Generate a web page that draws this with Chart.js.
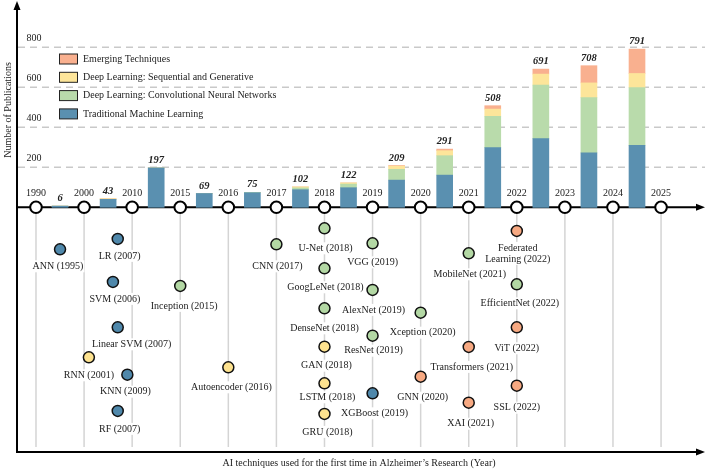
<!DOCTYPE html>
<html>
<head>
<meta charset="utf-8">
<script src="https://cdn.jsdelivr.net/npm/chart.js@4.4.0/dist/chart.umd.min.js"></script>
<style>
  html, body { margin: 0; padding: 0; background: #fff; }
  #wrap { width: 709px; height: 470px; }
</style>
</head>
<body>
<div id="wrap"><canvas id="timelineChart" width="709" height="470"></canvas></div>
<script>
// year marks on the timeline
var yearMarks = ['1990', '2000', '2010', '2015', '2016', '2017', '2018', '2019', '2020', '2021', '2022', '2023', '2024', '2025'];

// publications for each period between two year marks
var totals        = [6, 43, 197, 69, 75, 102, 122, 209, 291, 508, 691, 708, 791];
var traditionalML = [6, 40, 197, 69, 73, 88, 98, 136, 161, 298, 343, 272, 310];
var dlConv        = [0, 0, 0, 0, 2, 9, 18, 54, 97, 157, 268, 276, 288];
var dlSeqGen      = [0, 3, 0, 0, 0, 5, 6, 16, 25, 36, 55, 74, 71];
var emerging      = [0, 0, 0, 0, 0, 0, 0, 3, 8, 17, 25, 86, 122];
var yTicks = [200, 400, 600, 800];

var seriesNames = ['Traditional Machine Learning', 'Deep Learning: Convolutional Neural Networks',
                   'Deep Learning: Sequential and Generative', 'Emerging Techniques'];

// AI techniques, first year used, group (index into seriesNames), lane below the timeline
var techNames = ['ANN', 'LR', 'SVM', 'Inception', 'Linear SVM', 'RNN', 'KNN', 'Autoencoder', 'RF',
                 'CNN', 'U-Net', 'GoogLeNet', 'DenseNet', 'GAN', 'LSTM', 'GRU',
                 'VGG', 'AlexNet', 'ResNet', 'XGBoost', 'Xception', 'GNN',
                 'MobileNet', 'Transformers', 'XAI', 'Federated\nLearning', 'EfficientNet', 'ViT', 'SSL'];
var techYears = [1995, 2007, 2006, 2015, 2007, 2001, 2009, 2016, 2007,
                 2017, 2018, 2018, 2018, 2018, 2018, 2018,
                 2019, 2019, 2019, 2019, 2020, 2020,
                 2021, 2021, 2021, 2022, 2022, 2022, 2022];
var techGroup = [0, 0, 0, 1, 0, 2, 0, 2, 0,
                 1, 1, 1, 1, 2, 2, 2,
                 1, 1, 1, 0, 1, 3,
                 1, 3, 3, 3, 1, 3, 3];
var techLane  = [-210, -158, -373, -393, -600, -750, -837, -800, -1018,
                 -185, -105, -305, -505, -697, -880, -1033,
                 -180, -413, -642, -930, -527, -847,
                 -230, -698, -977, -118, -385, -600, -892];

// layout / style
var barColors = ['#5a90b0', '#b9dbab', '#fde59a', '#f9b08f'];
var dotColors = ['#4f88ab', '#b3d8a4', '#fde28f', '#f7a982'];
var labelOffsets = [[-2, 17], [2, 17], [2, 17], [4, 20], [14, 17], [0, 18], [-2, 17], [3, 20], [2, 18],
                    [1, 22], [1, 20], [1, 19], [0, 20], [2, 19], [3, 14], [3, 18],
                    [0, 19], [1, 20], [1, 15], [2, 20], [2, 20], [2, 21],
                    [1, 21], [3, 20], [2, 21], [1, 17], [3, 19], [0, 21], [0, 22]];
var FONT = '"Liberation Serif", "Times New Roman", serif';
var TXT = '#222';

function yearPos(y) {
    if (y <= 2010) return (y - 1990) / 10;
    return y - 2015 + 3;
}

function barData(arr) {
    return arr.map(function (v, i) { return { x: i + 0.5, y: v }; });
}

var techPoints = techNames.map(function (n, i) { return { x: yearPos(techYears[i]), y: techLane[i] }; });
var markPoints = yearMarks.map(function (y, i) { return { x: i, y: 0 }; });

function arrow(ctx, x, y, dir) {
    ctx.beginPath();
    if (dir == 'up') {
        ctx.moveTo(x, y); ctx.lineTo(x - 3.5, y + 9); ctx.lineTo(x + 3.5, y + 9);
    } else {
        ctx.moveTo(x, y); ctx.lineTo(x - 9, y - 3.5); ctx.lineTo(x - 9, y + 3.5);
    }
    ctx.closePath();
    ctx.fill();
}

function ys2(chart, v) {
    return chart.scales.y2.getPixelForValue(v);
}

var timelineDecor = {
    id: 'timelineDecor',
    beforeDatasetsDraw: function (chart) {
        var ctx = chart.ctx, xs = chart.scales.x, ys = chart.scales.y, area = chart.chartArea;
        var y0 = ys.getPixelForValue(0);
        ctx.save();

        // dashed grid
        ctx.strokeStyle = '#c9c9c9';
        ctx.lineWidth = 1.5;
        ctx.setLineDash([7, 5]);
        yTicks.forEach(function (v) {
            var py = ys.getPixelForValue(v);
            ctx.beginPath(); ctx.moveTo(area.left + 1, py); ctx.lineTo(area.right, py); ctx.stroke();
        });
        ctx.setLineDash([]);

        // drop lines under each year mark
        ctx.strokeStyle = '#d4d4d4';
        ctx.lineWidth = 1.5;
        yearMarks.forEach(function (y, i) {
            var px = xs.getPixelForValue(i);
            ctx.beginPath(); ctx.moveTo(px, y0 + 6); ctx.lineTo(px, area.bottom - 5); ctx.stroke();
        });

        // technique labels (white box hides the drop lines)
        ctx.font = '10px ' + FONT;
        ctx.textAlign = 'center';
        ctx.textBaseline = 'middle';
        techNames.forEach(function (n, i) {
            var px = xs.getPixelForValue(techPoints[i].x) + labelOffsets[i][0];
            var py = ys2(chart, techPoints[i].y) + labelOffsets[i][1];
            var lines = (n + ' (' + techYears[i] + ')').split('\n');
            lines.forEach(function (t, k) {
                var ly = py + k * 11;
                var w = ctx.measureText(t).width;
                ctx.fillStyle = '#fff';
                ctx.fillRect(px - w / 2 - 1, ly - 6, w + 2, 12);
                ctx.fillStyle = TXT;
                ctx.fillText(t, px, ly);
            });
        });

        // frame, timeline and arrows
        ctx.strokeStyle = '#000';
        ctx.fillStyle = '#000';
        ctx.lineWidth = 2;
        ctx.beginPath();
        ctx.moveTo(area.left, area.bottom); ctx.lineTo(area.left, area.top + 4);
        ctx.moveTo(area.left - 1, area.bottom); ctx.lineTo(area.right - 6, area.bottom);
        ctx.moveTo(area.left, y0); ctx.lineTo(area.right - 6, y0);
        ctx.stroke();
        arrow(ctx, area.left, area.top - 2, 'up');
        arrow(ctx, area.right, area.bottom, 'right');
        arrow(ctx, area.right, y0, 'right');
        ctx.restore();
    },
    afterDatasetsDraw: function (chart) {
        var ctx = chart.ctx, xs = chart.scales.x, ys = chart.scales.y, area = chart.chartArea;
        var y0 = ys.getPixelForValue(0);
        ctx.save();
        ctx.fillStyle = TXT;
        ctx.textAlign = 'center';

        // year labels
        ctx.font = '10px ' + FONT;
        ctx.textBaseline = 'alphabetic';
        yearMarks.forEach(function (y, i) {
            ctx.fillText(y, xs.getPixelForValue(i), y0 - 11);
        });

        // y tick labels
        yTicks.forEach(function (v) {
            ctx.fillText(String(v), area.left + 17, ys.getPixelForValue(v) - 6.5);
        });

        // totals
        ctx.font = 'italic bold 10.5px ' + FONT;
        totals.forEach(function (v, i) {
            ctx.fillText(String(v), xs.getPixelForValue(i + 0.5), ys.getPixelForValue(v) - 5);
        });

        // legend (reverse order)
        ctx.font = '10px ' + FONT;
        ctx.textAlign = 'left';
        ctx.textBaseline = 'middle';
        for (var k = 3; k >= 0; k--) {
            var cy = 59 + (3 - k) * 18.3;
            ctx.fillStyle = barColors[k];
            ctx.fillRect(59.5, cy - 5, 18, 10);
            ctx.strokeStyle = '#222';
            ctx.lineWidth = 1;
            ctx.strokeRect(59.5, cy - 5, 18, 10);
            ctx.fillStyle = TXT;
            ctx.fillText(seriesNames[k], 83, cy);
        }

        // axis titles
        ctx.textAlign = 'center';
        ctx.fillText('AI techniques used for the first time in Alzheimer\u2019s Research (Year)', 359, 463);
        ctx.translate(8, 110);
        ctx.rotate(-Math.PI / 2);
        ctx.fillText('Number of Publications', 0, 0);
        ctx.restore();
    }
};

var X_MIN = -0.395, X_MAX = 13.914, Y_MIN = -1223.5, Y_MAX = 1021.5;

var barSets = [traditionalML, dlConv, dlSeqGen, emerging].map(function (arr, k) {
    return {
        type: 'bar',
        label: seriesNames[k],
        data: barData(arr),
        backgroundColor: barColors[k],
        borderWidth: 0,
        barThickness: 16,
        yAxisID: 'y',
        order: 2
    };
});

var ctx = document.getElementById('timelineChart').getContext('2d');
window.timeline = new Chart(ctx, {
    type: 'bar',
    data: {
        datasets: barSets.concat([
            {
                type: 'scatter',
                label: 'techniques',
                data: techPoints,
                yAxisID: 'y2',
                pointRadius: 5.5,
                pointBackgroundColor: techGroup.map(function (g) { return dotColors[g]; }),
                pointBorderColor: '#111',
                pointBorderWidth: 1.5,
                order: 1
            },
            {
                type: 'scatter',
                label: 'years',
                data: markPoints,
                yAxisID: 'y2',
                pointRadius: 5.8,
                pointBackgroundColor: '#fff',
                pointBorderColor: '#000',
                pointBorderWidth: 2,
                order: 0
            }
        ])
    },
    options: {
        responsive: false,
        animation: false,
        devicePixelRatio: 1,
        events: [],
        layout: { autoPadding: false, padding: { left: 17, right: 4, top: 3, bottom: 18 } },
        plugins: { legend: { display: false }, tooltip: { enabled: false } },
        scales: {
            x: { type: 'linear', min: X_MIN, max: X_MAX, stacked: true, offset: false, grace: 0, display: false },
            y: { min: Y_MIN, max: Y_MAX, stacked: true, grace: 0, display: false },
            y2: { min: Y_MIN, max: Y_MAX, grace: 0, display: false }
        }
    },
    plugins: [timelineDecor]
});
</script>
</body>
</html>
